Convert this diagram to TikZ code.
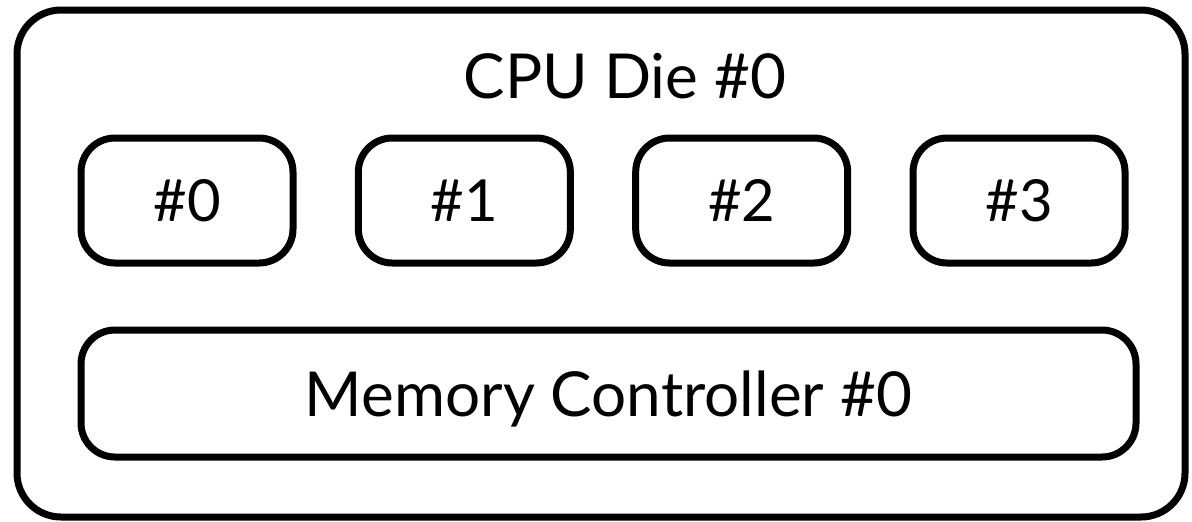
\documentclass[tikz,border=0pt]{standalone}
\usepackage{fontspec}
\setmainfont{Lato}
\usepackage{tikz}
\usetikzlibrary{positioning}

\begin{document}
\begin{tikzpicture}[x=0.5pt,y=-0.5pt,
		diebox/.style={draw,line width=3.5pt,rounded corners=22pt,inner sep=0pt,outer sep=0pt,
			minimum width=584pt,minimum height=253.5pt},
		corebox/.style={draw,line width=3.5pt,rounded corners=17pt,inner sep=0pt,outer sep=0pt,
			minimum width=106pt,minimum height=62.5pt,text depth=0pt,
			font=\fontsize{29}{34}\selectfont},
		mcbox/.style={draw,line width=3.5pt,rounded corners=17pt,inner sep=0pt,outer sep=0pt,
			minimum width=527.5pt,minimum height=63.5pt,text depth=0pt,
			font=\fontsize{31}{36}\selectfont},
		node distance=32.67pt
		]
		\useasboundingbox (0,0) rectangle (1192,521);

		\node[diebox](die) at (601,263.5){};
		\node[anchor=base,font=\fontsize{31}{36}\selectfont](title) at (625,98){CPU Die \#0};

		\node[corebox](c0) at (187,200.5){\#0};
		\node[corebox, right = of c0](c1){\#1};
		\node[corebox, right = of c1](c2){\#2};
		\node[corebox, right = of c2](c3){\#3};

		\node[mcbox](mc) at (608.5,393.5){Memory Controller \#0};
	\end{tikzpicture}
\end{document}
